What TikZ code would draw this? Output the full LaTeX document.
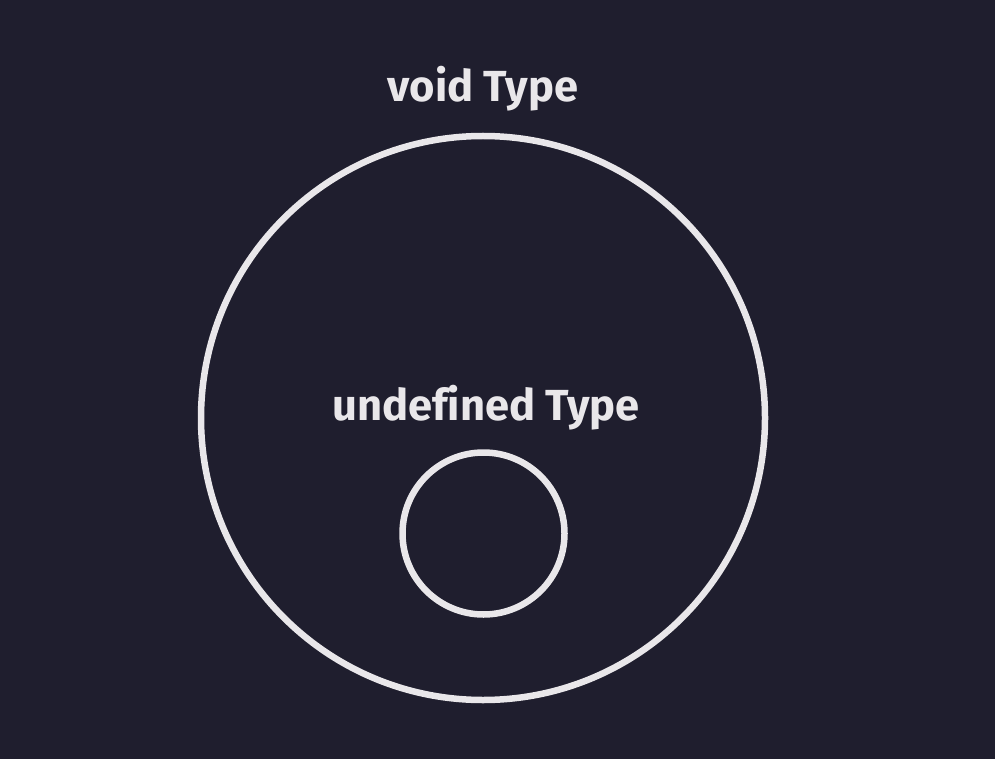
\documentclass[tikz,border=0pt]{standalone}
\usepackage{fontspec}
\setmainfont{Fira Sans}[Ligatures=NoCommon]
\definecolor{bg}{HTML}{1F1E2E}
\definecolor{fg}{HTML}{E9E7EA}
\begin{document}
\begin{tikzpicture}[x=1pt,y=-1pt,
  ring/.style={draw=fg,line width=6.5pt,circle,inner sep=0pt},
  lbl/.style={text=fg,font=\fontsize{43.5}{52}\selectfont\bfseries,inner sep=0pt,anchor=base}]
\fill[bg] (0,0) rectangle (995,759);
\useasboundingbox (0,0) rectangle (995,759);
\node[ring,minimum size=564pt] (outer) at (483,418) {};
\node[ring,minimum size=162pt] (inner) at (483.5,533.5) {};
\node[lbl] (void) at (483,102) {void Type};
\node[lbl] (undef) at (486,420) {undefined Type};
\end{tikzpicture}
\end{document}
